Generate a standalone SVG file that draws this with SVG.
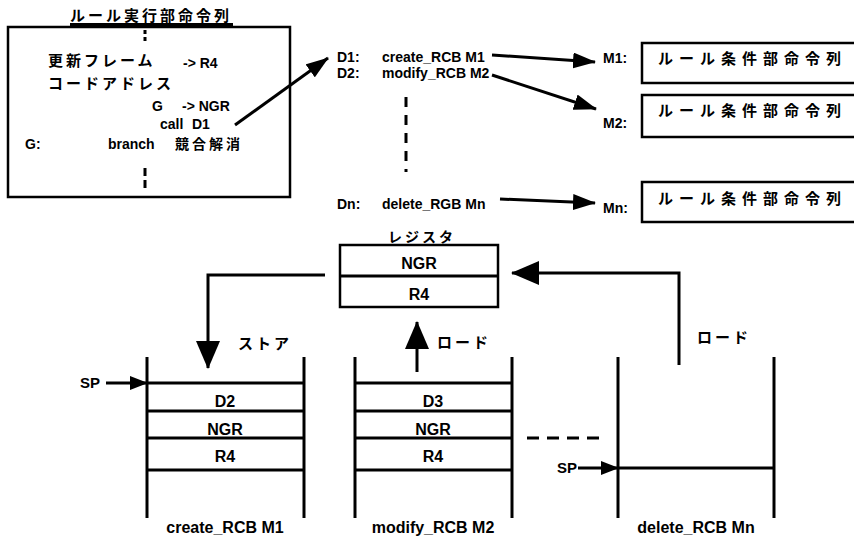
<svg xmlns="http://www.w3.org/2000/svg" width="854" height="537" viewBox="0 0 854 537">
<style>
.t{font-family:"Liberation Sans",Arial,sans-serif;font-weight:bold;font-size:14px;fill:#000}
.b{font-size:16px}
.j{font-family:"Noto Sans CJK JP",sans-serif;font-weight:bold;font-size:15px;letter-spacing:3px;fill:#000}
.jw{letter-spacing:6px}
.s{stroke:#000;stroke-width:3;fill:none}
.box{stroke:#000;stroke-width:2.5;fill:#fff}
.d{stroke:#000;stroke-width:3;fill:none;stroke-dasharray:10 8}
</style>
<defs>
<marker id="ah" markerUnits="userSpaceOnUse" markerWidth="23" markerHeight="16" refX="22" refY="8" orient="auto"><path d="M0,0 L23,8 L0,16 z" fill="#000"/></marker>
<marker id="ahL" markerUnits="userSpaceOnUse" markerWidth="28" markerHeight="24" refX="27" refY="12" orient="auto"><path d="M0,0 L28,12 L0,24 z" fill="#000"/></marker>
<marker id="ahS" markerUnits="userSpaceOnUse" markerWidth="18" markerHeight="14" refX="17" refY="7" orient="auto"><path d="M0,0 L18,7 L0,14 z" fill="#000"/></marker>
</defs>
<rect width="854" height="537" fill="#fff"/>

<g id="exec-block">
<text class="j" x="70" y="21">ルール実行部命令列</text>
<line class="s" x1="70" y1="24.500" x2="233" y2="24.500" stroke-width="2"/>
<rect class="box" x="8" y="27" width="282" height="170"/>
<line class="s" x1="145" y1="30" x2="145" y2="44" stroke-dasharray="4 3"/>
<line class="s" x1="145" y1="168" x2="145" y2="188" stroke-dasharray="8 4"/>
<text class="j" x="48" y="66">更新フレーム</text>
<text class="t" x="183" y="68">-&gt; R4</text>
<text class="j" x="48" y="89">コードアドレス</text>
<text class="t" x="152" y="111">G</text>
<text class="t" x="182" y="111">-&gt; NGR</text>
<text class="t" x="160" y="129">call</text>
<text class="t" x="192" y="129">D1</text>
<text class="t" x="25" y="149">G:</text>
<text class="t" x="108" y="149">branch</text>
<text class="j" x="175" y="149" style="font-size:14px;letter-spacing:3px">競合解消</text>
</g>

<g id="dispatch">
<text class="t" x="337" y="62">D1:</text>
<text class="t" x="382" y="62">create_RCB M1</text>
<text class="t" x="337" y="78">D2:</text>
<text class="t" x="382" y="78">modify_RCB M2</text>
<line class="d" x1="406" y1="97" x2="406" y2="172"/>
<text class="t" x="337" y="209">Dn:</text>
<text class="t" x="382" y="209">delete_RGB Mn</text>
</g>

<g id="m1">
<text class="t" x="603" y="63">M1:</text>
<rect class="box" x="642" y="43" width="230" height="40"/>
<text class="j jw" x="658" y="64">ルール条件部命令列</text>
</g>
<g id="m2">
<text class="t" x="603" y="128">M2:</text>
<rect class="box" x="642" y="95" width="230" height="42"/>
<text class="j jw" x="658" y="116">ルール条件部命令列</text>
</g>
<g id="mn">
<text class="t" x="603" y="213">Mn:</text>
<rect class="box" x="642" y="182" width="230" height="40"/>
<text class="j jw" x="658" y="204">ルール条件部命令列</text>
</g>

<g id="register">
<text class="j" x="388" y="242" style="font-size:14px">レジスタ</text>
<rect class="box" x="340" y="245" width="158" height="62"/>
<line class="s" x1="340" y1="276" x2="498" y2="276" stroke-width="2.500"/>
<text class="t b" x="419" y="269" text-anchor="middle">NGR</text>
<text class="t b" x="419" y="300" text-anchor="middle">R4</text>
</g>

<g id="stack1">
<line class="s" x1="147" y1="357" x2="147" y2="518"/>
<line class="s" x1="304" y1="357" x2="304" y2="518"/>
<line class="s" x1="147" y1="383" x2="304" y2="383"/>
<line class="s" x1="147" y1="411" x2="304" y2="411"/>
<line class="s" x1="147" y1="438" x2="304" y2="438"/>
<line class="s" x1="147" y1="470" x2="304" y2="470"/>
<text class="t b" x="225" y="407" text-anchor="middle">D2</text>
<text class="t b" x="225" y="435" text-anchor="middle">NGR</text>
<text class="t b" x="225" y="462" text-anchor="middle">R4</text>
<text class="t" x="80" y="388" style="font-size:15px">SP</text>
<text class="t b" x="225" y="533" text-anchor="middle">create_RCB M1</text>
</g>

<g id="stack2">
<line class="s" x1="355" y1="357" x2="355" y2="518"/>
<line class="s" x1="512" y1="357" x2="512" y2="518"/>
<line class="s" x1="355" y1="383" x2="512" y2="383"/>
<line class="s" x1="355" y1="411" x2="512" y2="411"/>
<line class="s" x1="355" y1="438" x2="512" y2="438"/>
<line class="s" x1="355" y1="470" x2="512" y2="470"/>
<text class="t b" x="433" y="407" text-anchor="middle">D3</text>
<text class="t b" x="433" y="435" text-anchor="middle">NGR</text>
<text class="t b" x="433" y="462" text-anchor="middle">R4</text>
<text class="t b" x="433" y="533" text-anchor="middle">modify_RCB M2</text>
</g>

<g id="stack3">
<line class="s" x1="618" y1="357" x2="618" y2="518"/>
<line class="s" x1="774" y1="357" x2="774" y2="518"/>
<line class="s" x1="618" y1="468" x2="774" y2="468"/>
<text class="t" x="557" y="473" style="font-size:15px">SP</text>
<text class="t b" x="696" y="533" text-anchor="middle">delete_RCB Mn</text>
</g>

<g id="connectors">
<line class="s" x1="235" y1="125" x2="328" y2="58" marker-end="url(#ah)"/>
<line class="s" x1="492" y1="55" x2="595" y2="62" marker-end="url(#ah)"/>
<line class="s" x1="492" y1="75" x2="596" y2="109" marker-end="url(#ah)"/>
<line class="s" x1="500" y1="199" x2="595" y2="203" marker-end="url(#ah)"/>
<polyline class="s" points="325,275 208,275 208,368" marker-end="url(#ahL)"/>
<text class="j" x="238" y="349">ストア</text>
<line class="s" x1="417" y1="372" x2="417" y2="322" marker-end="url(#ahL)"/>
<text class="j" x="437" y="348">ロード</text>
<polyline class="s" points="679,365 679,273 512,273" marker-end="url(#ahL)"/>
<text class="j" x="697" y="343">ロード</text>
<line class="s" x1="106" y1="383" x2="147" y2="383" marker-end="url(#ahS)"/>
<line class="s" x1="578" y1="468" x2="618" y2="468" marker-end="url(#ahS)"/>
<line class="s" x1="527" y1="438" x2="603" y2="438" stroke-dasharray="12 8"/>
</g>
</svg>
